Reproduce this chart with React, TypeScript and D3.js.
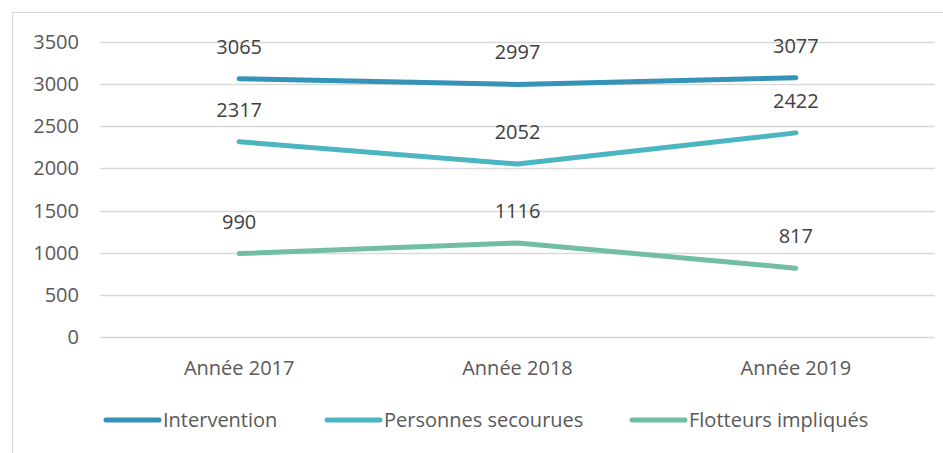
import React, { useRef, useEffect } from "react";
import * as d3 from "d3";

const categories = ["Année 2017", "Année 2018", "Année 2019"];
const intervention = [3065, 2997, 3077];
const personnes = [2317, 2052, 2422];
const flotteurs = [990, 1116, 817];
const seriesNames = ["Intervention", "Personnes secourues", "Flotteurs impliqués"];
const yTicks = [0, 500, 1000, 1500, 2000, 2500, 3000, 3500];

const colors = ["#3592b9", "#4cb5c2", "#72bea3"];
const legendX = [106, 327, 632];

function App() {
  const svgRef = useRef<SVGSVGElement | null>(null);

  useEffect(() => {
    const svg = d3.select(svgRef.current);
    svg.selectAll("*").remove();
    const width = 943;
    const height = 453;
    const font = "'Open Sans', sans-serif";
    const fs = 20;

    svg.append("rect")
      .attr("x", 12.5).attr("y", 12.5)
      .attr("width", width).attr("height", height)
      .attr("fill", "white")
      .attr("stroke", "#d9d9d9");

    const x = d3.scaleBand().domain(categories).range([100, 935]);
    const y = d3.scaleLinear().domain([0, 3500]).range([337, 42]);

    const grid = svg.append("g");
    grid.selectAll("line")
      .data(yTicks)
      .enter()
      .append("line")
      .attr("x1", 100).attr("x2", 935)
      .attr("y1", (d) => Math.round(y(d)) + 0.5)
      .attr("y2", (d) => Math.round(y(d)) + 0.5)
      .attr("stroke", "#d9d9d9")
      .attr("stroke-width", 1.5);

    svg.append("g").selectAll("text")
      .data(yTicks)
      .enter()
      .append("text")
      .attr("x", 79)
      .attr("y", (d) => y(d))
      .attr("dy", "0.35em")
      .attr("text-anchor", "end")
      .attr("font-family", font)
      .attr("font-size", fs)
      .attr("fill", "#595959")
      .text((d) => d);

    svg.append("g").selectAll("text")
      .data(categories)
      .enter()
      .append("text")
      .attr("x", (d) => (x(d) as number) + x.bandwidth() / 2)
      .attr("y", 368)
      .attr("dy", "0.35em")
      .attr("text-anchor", "middle")
      .attr("font-family", font)
      .attr("font-size", fs)
      .attr("fill", "#595959")
      .text((d) => d);

    const allSeries = [intervention, personnes, flotteurs];
    const cx = (i: number) => (x(categories[i]) as number) + x.bandwidth() / 2;
    const line = d3.line<number>()
      .x((_, i) => cx(i))
      .y((d) => y(d));

    allSeries.forEach((values, s) => {
      svg.append("path")
        .datum(values)
        .attr("d", line)
        .attr("fill", "none")
        .attr("stroke", colors[s])
        .attr("stroke-width", 5)
        .attr("stroke-linecap", "round")
        .attr("stroke-linejoin", "round");

      svg.append("g").selectAll("text")
        .data(values)
        .enter()
        .append("text")
        .attr("x", (_, i) => cx(i))
        .attr("y", (d) => y(d) - 32)
        .attr("dy", "0.35em")
        .attr("text-anchor", "middle")
        .attr("font-family", font)
        .attr("font-size", fs)
        .attr("fill", "#404040")
        .text((d) => d);
    });

    const legend = svg.append("g");
    seriesNames.forEach((name, s) => {
      legend.append("line")
        .attr("x1", legendX[s]).attr("x2", legendX[s] + 53)
        .attr("y1", 420).attr("y2", 420)
        .attr("stroke", colors[s])
        .attr("stroke-width", 5)
        .attr("stroke-linecap", "round");
      legend.append("text")
        .attr("x", legendX[s] + 57)
        .attr("y", 420)
        .attr("dy", "0.35em")
        .attr("font-family", font)
        .attr("font-size", fs)
        .attr("fill", "#595959")
        .text(name);
    });
  }, []);

  return (
    <svg
      ref={svgRef}
      width={943}
      height={453}
      style={{ position: "absolute", left: 0, top: 0 }}
    ></svg>
  );
}

export default App;
